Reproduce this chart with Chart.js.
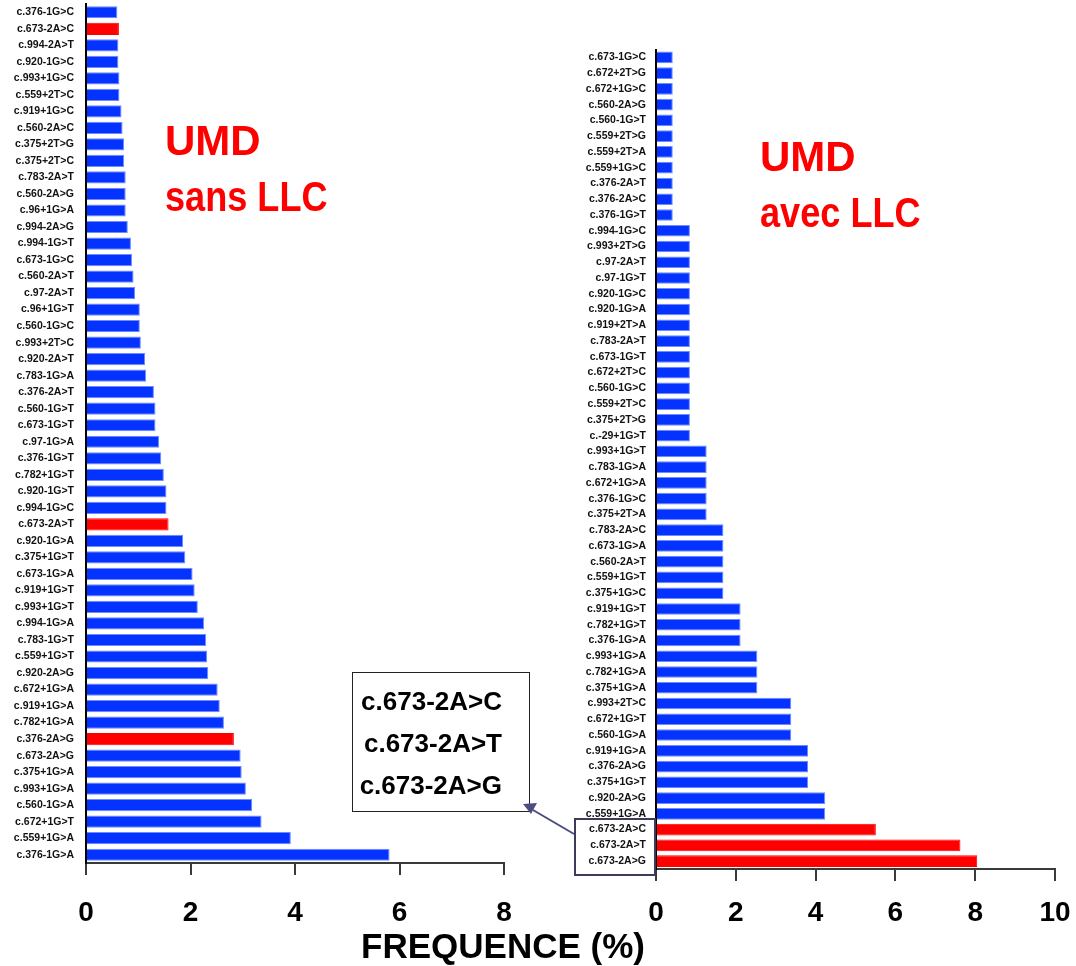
<!DOCTYPE html>
<html lang="fr">

<head>
    <meta charset="UTF-8">
    <title>UMD - fréquence des mutations</title>
    <script src="https://cdn.jsdelivr.net/npm/chart.js"></script>
    <style>
        body {
            margin: 0;
            background: #fff;
            width: 1076px;
            height: 966px;
            position: relative;
            overflow: hidden;
            font-family: 'Liberation Sans', Arial, sans-serif;
        }

        canvas {
            position: absolute;
            top: 0;
        }

        .txt {
            position: absolute;
            font-weight: bold;
            line-height: 1;
            white-space: nowrap;
        }

        .umd {
            color: #ff0000;
            font-size: 42px;
            transform-origin: left top;
        }

        #freq {
            font-size: 35px;
            color: #000;
            left: 0;
            width: 1006px;
            text-align: center;
            top: 928px;
        }

        #note {
            position: absolute;
            left: 352px;
            top: 672px;
            width: 178px;
            height: 140px;
            border: 1px solid #222;
            box-sizing: border-box;
        }

        #note div {
            position: absolute;
            right: 27px;
            font-size: 26px;
            font-weight: bold;
            line-height: 1;
        }

        svg {
            position: absolute;
            left: 0;
            top: 0;
        }
    </style>
</head>

<body>

    <canvas id="sansChart" width="530" height="940" style="left:0"></canvas>
    <canvas id="avecChart" width="536" height="940" style="left:540px"></canvas>

    <div class="txt umd" style="left:165px; top:120px">UMD</div>
    <div class="txt umd" style="left:165px; top:176px; transform:scaleX(0.86)">sans LLC</div>
    <div class="txt umd" style="left:760px; top:136px">UMD</div>
    <div class="txt umd" style="left:760px; top:192px; transform:scaleX(0.86)">avec LLC</div>

    <div id="note">
        <div style="top:15px">c.673-2A&gt;C</div>
        <div style="top:57px">c.673-2A&gt;T</div>
        <div style="top:99px">c.673-2A&gt;G</div>
    </div>

    <svg width="1076" height="966">
        <rect x="575" y="819" width="80" height="56" fill="none" stroke="#3b3b5c" stroke-width="2" />
        <line x1="574" y1="834" x2="533" y2="810" stroke="#4c4c80" stroke-width="2" />
        <polygon points="523,804 537,803 531,814" fill="#4c4c80" />
    </svg>

    <div class="txt" id="freq">FREQUENCE (%)</div>

    <script>
        // UMD sans LLC
        const sansLabels = ['c.376-1G>C', 'c.673-2A>C', 'c.994-2A>T', 'c.920-1G>C', 'c.993+1G>C', 'c.559+2T>C',
            'c.919+1G>C', 'c.560-2A>C', 'c.375+2T>G', 'c.375+2T>C', 'c.783-2A>T', 'c.560-2A>G', 'c.96+1G>A',
            'c.994-2A>G', 'c.994-1G>T', 'c.673-1G>C', 'c.560-2A>T', 'c.97-2A>T', 'c.96+1G>T', 'c.560-1G>C',
            'c.993+2T>C', 'c.920-2A>T', 'c.783-1G>A', 'c.376-2A>T', 'c.560-1G>T', 'c.673-1G>T', 'c.97-1G>A',
            'c.376-1G>T', 'c.782+1G>T', 'c.920-1G>T', 'c.994-1G>C', 'c.673-2A>T', 'c.920-1G>A', 'c.375+1G>T',
            'c.673-1G>A', 'c.919+1G>T', 'c.993+1G>T', 'c.994-1G>A', 'c.783-1G>T', 'c.559+1G>T', 'c.920-2A>G',
            'c.672+1G>A', 'c.919+1G>A', 'c.782+1G>A', 'c.376-2A>G', 'c.673-2A>G', 'c.375+1G>A', 'c.993+1G>A',
            'c.560-1G>A', 'c.672+1G>T', 'c.559+1G>A', 'c.376-1G>A'];
        const sansValues = [0.60, 0.63, 0.62, 0.62, 0.64, 0.64, 0.68, 0.70, 0.73, 0.73,
            0.76, 0.76, 0.76, 0.80, 0.86, 0.88, 0.91, 0.94, 1.03, 1.03,
            1.05, 1.13, 1.15, 1.30, 1.33, 1.33, 1.40, 1.44, 1.49, 1.54,
            1.54, 1.58, 1.86, 1.90, 2.04, 2.08, 2.14, 2.26, 2.30, 2.32,
            2.34, 2.52, 2.56, 2.64, 2.83, 2.96, 2.98, 3.06, 3.18, 3.36,
            3.92, 5.81];
        const sansRed = ['c.673-2A>C', 'c.673-2A>T', 'c.376-2A>G'];
        const sansTicksMax = 8;

        // UMD avec LLC
        const avecLabels = ['c.673-1G>C', 'c.672+2T>G', 'c.672+1G>C', 'c.560-2A>G', 'c.560-1G>T', 'c.559+2T>G',
            'c.559+2T>A', 'c.559+1G>C', 'c.376-2A>T', 'c.376-2A>C', 'c.376-1G>T', 'c.994-1G>C', 'c.993+2T>G',
            'c.97-2A>T', 'c.97-1G>T', 'c.920-1G>C', 'c.920-1G>A', 'c.919+2T>A', 'c.783-2A>T', 'c.673-1G>T',
            'c.672+2T>C', 'c.560-1G>C', 'c.559+2T>C', 'c.375+2T>G', 'c.-29+1G>T', 'c.993+1G>T', 'c.783-1G>A',
            'c.672+1G>A', 'c.376-1G>C', 'c.375+2T>A', 'c.783-2A>C', 'c.673-1G>A', 'c.560-2A>T', 'c.559+1G>T',
            'c.375+1G>C', 'c.919+1G>T', 'c.782+1G>T', 'c.376-1G>A', 'c.993+1G>A', 'c.782+1G>A', 'c.375+1G>A',
            'c.993+2T>C', 'c.672+1G>T', 'c.560-1G>A', 'c.919+1G>A', 'c.376-2A>G', 'c.375+1G>T', 'c.920-2A>G',
            'c.559+1G>A', 'c.673-2A>C', 'c.673-2A>T', 'c.673-2A>G'];
        const avecValues = [0.42, 0.42, 0.42, 0.42, 0.42, 0.42, 0.42, 0.42, 0.42, 0.42,
            0.42, 0.85, 0.85, 0.85, 0.85, 0.85, 0.85, 0.85, 0.85, 0.85,
            0.85, 0.85, 0.85, 0.85, 0.85, 1.27, 1.27, 1.27, 1.27, 1.27,
            1.69, 1.69, 1.69, 1.69, 1.69, 2.12, 2.12, 2.12, 2.54, 2.54,
            2.54, 3.39, 3.39, 3.39, 3.81, 3.81, 3.81, 4.24, 4.24, 5.51,
            7.63, 8.05];
        const avecRed = ['c.673-2A>C', 'c.673-2A>T', 'c.673-2A>G'];
        const avecTicksMax = 10;

        const BLUE = '#0433ff', EDGE = '#6f8cff', RED = '#ff0000';

        // box: y-axis width, top padding, x-axis height, right padding, x tick padding
        function drawChart(id, labels, values, red, xMax, box) {
            const isRed = l => red.includes(l);
            return new Chart(document.getElementById(id), {
                type: 'bar',
                data: {
                    labels: labels,
                    datasets: [{
                        data: values,
                        backgroundColor: labels.map(l => isRed(l) ? RED : BLUE),
                        borderColor: labels.map(l => isRed(l) ? RED : EDGE),
                        borderWidth: 1,
                        barPercentage: 0.74,
                        categoryPercentage: 1
                    }]
                },
                options: {
                    indexAxis: 'y',
                    responsive: false,
                    animation: false,
                    layout: { padding: { top: box.top, right: box.right, left: 0, bottom: 0 } },
                    plugins: { legend: { display: false }, tooltip: { enabled: false } },
                    scales: {
                        x: {
                            min: 0, max: xMax,
                            ticks: {
                                stepSize: 2, color: '#000', padding: box.tickPad,
                                font: { family: 'Liberation Sans', size: 28, weight: 'bold' }
                            },
                            grid: { drawOnChartArea: false, tickLength: 12, color: '#3a3a3a', lineWidth: 2 },
                            border: { color: '#3a3a3a', width: 2 },
                            afterFit: s => { s.height = box.xh; s.paddingLeft = 0; s.paddingRight = 0; }
                        },
                        y: {
                            ticks: {
                                autoSkip: false, color: '#111', padding: box.labelPad,
                                font: { family: 'Liberation Sans', size: 10.5, weight: 'bold' }
                            },
                            grid: { drawOnChartArea: false, drawTicks: false },
                            border: { color: '#000', width: 2 },
                            afterFit: s => { s.width = box.yw; s.paddingTop = 0; s.paddingBottom = 0; }
                        }
                    }
                }
            });
        }

        drawChart('sansChart', sansLabels, sansValues, sansRed, sansTicksMax,
            { yw: 86, top: 4, xh: 77, right: 26, tickPad: 21, labelPad: 12 });
        drawChart('avecChart', avecLabels, avecValues, avecRed, avecTicksMax,
            { yw: 116, top: 49.5, xh: 71, right: 21, tickPad: 15, labelPad: 10 });
    </script>
</body>

</html>
